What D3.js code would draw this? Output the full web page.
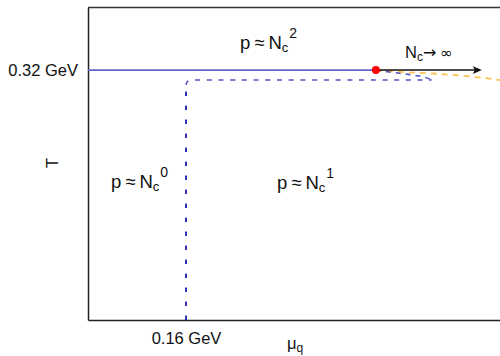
<!DOCTYPE html>
<html>
<head>
<meta charset="utf-8">
<script src="https://cdn.jsdelivr.net/npm/d3@7"></script>
<style>
  html, body { margin: 0; padding: 0; background: #fff; }
  svg { display: block; font-family: "Liberation Sans", Arial, Helvetica, sans-serif; }
</style>
</head>
<body>
<svg id="chart" width="500" height="356"></svg>
<script>
// ---- data (GeV) ----
const muTicks = [0.16];
const muTickLabels = ["0.16 GeV"];
const tTicks = [0.32];
const tTickLabels = ["0.32 GeV"];
const criticalPoint = [0.47, 0.32];
const deconfinementLine = [[0, 0.32], [0.47, 0.32]];
const largeNcArrow = [[0.47, 0.32], [0.643, 0.32]];
const quarkyonicVertical = [[0.16, 0], [0.16, 0.301]];
const quarkyonicUpper = [[0.16, 0.301], [0.161, 0.305], [0.166, 0.3073], [0.175, 0.3073], [0.3, 0.3073], [0.45, 0.3073], [0.561, 0.3073]];
const quarkyonicTip = [[0.47, 0.32], [0.485, 0.3182], [0.509, 0.3158], [0.534, 0.3132], [0.55, 0.3108], [0.561, 0.3075]];
const crossoverLine = [[0.47, 0.32], [0.509, 0.3178], [0.575, 0.315], [0.624, 0.3118], [0.673, 0.3073], [0.7, 0.3045]];

const svg = d3.select("#chart");
const x = d3.scaleLinear().domain([0, 0.7]).range([88, 516.75]);
const y = d3.scaleLinear().domain([0, 0.4]).range([320, 7.6]);
const line = d3.line().x(d => x(d[0])).y(d => y(d[1]));
const basis = d3.line().x(d => x(d[0])).y(d => y(d[1])).curve(d3.curveBasis);
const smooth = d3.line().x(d => x(d[0])).y(d => y(d[1])).curve(d3.curveMonotoneX);

// top border
svg.append("line").attr("x1", x(0)).attr("x2", x(0.7)).attr("y1", y(0.4)).attr("y2", y(0.4))
  .attr("stroke", "#333").attr("stroke-width", 1.5);

// axes
const yAxis = d3.axisLeft(y).tickValues(tTicks).tickFormat((d, i) => tTickLabels[i])
  .tickSizeInner(0).tickSizeOuter(0).tickPadding(10);
const gy = svg.append("g").attr("transform", `translate(${x(0)},0)`).call(yAxis);
const xAxis = d3.axisBottom(x).tickValues(muTicks).tickFormat((d, i) => muTickLabels[i])
  .tickSizeInner(0).tickSizeOuter(0).tickPadding(12.3);
const gx = svg.append("g").attr("transform", `translate(0,${y(0)})`).call(xAxis);
[gy, gx].forEach(g => {
  g.select(".domain").attr("stroke", "#222").attr("stroke-width", 1.5);
  g.selectAll("text").attr("font-size", 16.5).attr("fill", "#111")
    .attr("font-family", "'Liberation Sans', Arial, sans-serif");
});

// axis titles
svg.append("text").attr("transform", "translate(58,163) rotate(-90)")
  .attr("text-anchor", "middle").attr("font-size", 16.5).attr("fill", "#111").text("T");
const mu = svg.append("text").attr("x", 287).attr("y", 349).attr("font-size", 16.5).attr("fill", "#111");
mu.append("tspan").text("μ");
mu.append("tspan").attr("font-size", 12).attr("dy", 3).text("q");

// curves
svg.append("path").datum(quarkyonicVertical).attr("d", line)
  .attr("fill", "none").attr("stroke", "#0000a8").attr("stroke-width", 1.6).attr("stroke-dasharray", "4.5 9.5");
svg.append("path").datum(quarkyonicUpper).attr("d", basis)
  .attr("fill", "none").attr("stroke", "#5050c0").attr("stroke-width", 1.5).attr("stroke-dasharray", "5 6.7");
svg.append("path").datum(crossoverLine).attr("d", smooth)
  .attr("fill", "none").attr("stroke", "#fdc250").attr("stroke-width", 1.8).attr("stroke-dasharray", "6 5");
svg.append("path").datum(quarkyonicTip).attr("d", smooth)
  .attr("fill", "none").attr("stroke", "#5050c0").attr("stroke-width", 1.5).attr("stroke-dasharray", "5 5");
svg.append("path").datum(deconfinementLine).attr("d", line)
  .attr("fill", "none").attr("stroke", "#6464cc").attr("stroke-width", 1.6);

// arrow
const [a0, a1] = largeNcArrow;
const tipX = x(a1[0]), tipY = y(a1[1]);
svg.append("line").attr("x1", x(a0[0])).attr("y1", y(a0[1])).attr("x2", tipX - 6).attr("y2", tipY)
  .attr("stroke", "#111").attr("stroke-width", 1.5);
svg.append("path").attr("d", `M${tipX},${tipY} L${tipX - 9},${tipY - 3.8} L${tipX - 7},${tipY} L${tipX - 9},${tipY + 3.8} Z`)
  .attr("fill", "#111");

svg.append("circle").attr("cx", x(criticalPoint[0])).attr("cy", y(criticalPoint[1])).attr("r", 4).attr("fill", "#ff0000");

// region labels
function regionLabel(px, py, sup) {
  const t = svg.append("text").attr("x", px).attr("y", py).attr("font-size", 18.5).attr("fill", "#111");
  t.append("tspan").text("p");
  t.append("tspan").attr("dx", 4).text("≈");
  t.append("tspan").attr("dx", 4).text("N");
  t.append("tspan").attr("font-size", 13).attr("dy", 3).text("c");
  t.append("tspan").attr("font-size", 14).attr("dy", -13.7).attr("dx", 1).text(sup);
}
regionLabel(240, 49, "2");
regionLabel(111, 188, "0");
regionLabel(277, 189, "1");

const nc = svg.append("text").attr("x", 405).attr("y", 58).attr("font-size", 16.5).attr("fill", "#111");
nc.append("tspan").text("N");
nc.append("tspan").attr("font-size", 12).attr("dy", 3).text("c");
nc.append("tspan").attr("dy", -3).attr("font-family", "'DejaVu Sans', sans-serif").attr("font-size", 16).text("→");
nc.append("tspan").attr("dx", 4).attr("font-family", "'DejaVu Sans', sans-serif").attr("font-size", 15).text("∞");
</script>
</body>
</html>
